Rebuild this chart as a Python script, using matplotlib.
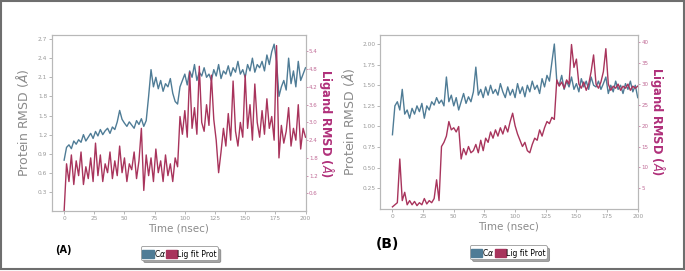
import numpy as np
import matplotlib
matplotlib.use("Agg")
import matplotlib.pyplot as plt
from matplotlib.patches import Patch, Rectangle

# time axis (nsec), one frame every 2 ns
time = np.arange(0, 201, 2)

# panel A
prot_a = [0.80, 1.00, 1.04, 0.98, 1.10, 1.05, 1.12, 1.08, 1.20, 1.10,
          1.16, 1.22, 1.14, 1.25, 1.18, 1.28, 1.20, 1.26, 1.30, 1.22,
          1.32, 1.28, 1.40, 1.58, 1.44, 1.38, 1.33, 1.40, 1.35, 1.30,
          1.42, 1.36, 1.45, 1.33, 1.42, 1.80, 2.22, 1.95, 2.10, 1.92,
          2.05, 1.88, 2.00, 1.95, 2.08, 1.85, 1.72, 1.68, 1.95, 2.05,
          2.15, 1.98, 2.20, 2.10, 2.30, 2.05, 2.18, 2.12, 2.25, 2.10,
          2.15, 2.05, 2.22, 2.12, 2.30, 2.08, 2.20, 2.15, 2.28, 2.12,
          2.25, 2.18, 2.35, 2.15, 2.22, 2.10, 2.30, 2.20, 2.40, 2.18,
          2.30, 2.25, 2.35, 2.20, 2.45, 2.30, 2.50, 2.62, 2.35, 1.80,
          1.95, 2.05, 1.90, 2.40, 2.00, 2.20, 1.95, 2.35, 2.05, 2.15,
          2.25]
lig_a = [0.0, 1.6, 1.0, 1.9, 0.9, 1.7, 1.2, 2.0, 0.9, 1.5,
         1.1, 1.8, 1.0, 2.3, 1.2, 1.9, 1.0, 1.6, 1.3, 2.0,
         1.1, 1.7, 1.2, 2.2, 1.3, 1.8, 1.0, 1.6, 1.4, 2.0,
         1.1, 1.7, 2.8, 0.7, 1.9, 1.2, 1.8, 1.0, 2.1, 1.3,
         1.7, 1.0, 1.9, 1.2, 1.6, 1.0, 1.8, 1.5, 3.2, 2.6,
         3.4, 2.5, 4.7, 2.8, 3.5, 2.6, 4.9, 3.0, 2.7, 3.6,
         2.9, 4.6, 3.1, 2.4, 1.3, 2.0, 2.8, 2.2, 3.3, 2.4,
         4.4, 2.7, 2.2, 3.0, 2.5, 4.6, 2.8, 3.6, 2.4, 4.3,
         3.0, 2.5, 3.4, 2.6, 3.8, 2.8, 3.2, 2.4, 5.6, 1.8,
         2.9, 2.3, 2.7, 3.5, 2.2, 2.8, 2.4, 3.6, 2.1, 2.8,
         2.5]

# panel B
prot_b = [0.90, 1.25, 1.30, 1.20, 1.45, 1.15, 1.20, 1.10, 1.22, 1.15,
          1.25, 1.18, 1.28, 1.10, 1.25, 1.20, 1.30, 1.26, 1.35, 1.28,
          1.32, 1.25, 1.60, 1.30, 1.38, 1.25, 1.35, 1.20, 1.30, 1.40,
          1.28, 1.36, 1.30, 1.42, 1.72, 1.38, 1.45, 1.35, 1.48, 1.38,
          1.50, 1.40, 1.45, 1.38, 1.52, 1.42, 1.35, 1.48, 1.38, 1.45,
          1.35, 1.52, 1.40, 1.48, 1.36, 1.50, 1.42, 1.55, 1.45, 1.50,
          1.40, 1.58, 1.48, 1.62, 1.55, 1.78, 2.00, 1.55, 1.50, 1.62,
          1.45, 1.55, 1.48, 1.60, 1.45, 1.52, 1.42, 1.58, 1.48, 1.55,
          1.45, 1.60, 1.50, 1.48, 1.55, 1.45, 1.52, 1.60, 1.40, 1.50,
          1.42, 1.55, 1.45, 1.50, 1.40, 1.52, 1.45, 1.55, 1.42, 1.50,
          1.35]
lig_b = [0.5, 1.0, 1.5, 12.0, 2.0, 4.0, 1.0, 2.0, 1.0, 1.8,
         0.8, 1.5, 1.0, 2.5, 1.2, 2.0, 1.5, 2.5, 7.0, 2.0,
         15.0, 16.0, 17.5, 21.0, 19.0, 19.5, 18.5, 19.8, 12.0, 14.5,
         13.0, 15.0, 13.5, 14.0, 15.5, 13.5, 16.5, 14.0, 17.0, 16.0,
         18.5, 17.0, 19.0, 17.5, 19.5, 18.0, 20.0, 18.5, 21.0, 23.0,
         20.0, 18.0, 16.5, 15.0, 16.0, 14.0, 13.5, 15.5, 17.0, 16.5,
         19.0, 17.5, 19.5, 21.0, 20.5, 22.0, 21.5, 31.0, 29.5, 30.5,
         29.0, 31.0, 30.0, 39.5, 34.0, 36.0, 30.0, 29.0, 30.5, 28.5,
         30.0, 33.0, 37.0, 30.0, 29.0, 30.5, 33.0, 38.5, 30.0, 28.5,
         29.5, 29.0, 30.0, 28.5, 29.5, 29.0, 30.0, 28.5, 29.5, 29.0,
         29.5]

x_ticks = [0, 25, 50, 75, 100, 125, 150, 175, 200]
prot_ticks_a = [0.3, 0.6, 0.9, 1.2, 1.5, 1.8, 2.1, 2.4, 2.7]
lig_ticks_a = [0.6, 1.2, 1.8, 2.4, 3.0, 3.6, 4.2, 4.8, 5.4]
prot_ticks_b = [0.25, 0.50, 0.75, 1.00, 1.25, 1.50, 1.75, 2.00]
lig_ticks_b = [5, 10, 15, 20, 25, 30, 35, 40]

blue = "#4f7c96"
red = "#a8345c"
lig_col = "#b0307a"
grey = "#8a8a8a"


def panel(rect, prot, lig, pticks, lticks, pfmt, lfmt, pylim, lylim, lx, rx):
    ax = fig.add_axes(rect)
    ax.plot(time, prot, color=blue, lw=1.0)
    ax2 = ax.twinx()
    ax2.plot(time, lig, color=red, lw=1.0)
    ax.set_xlim(-10, 200)
    ax.set_ylim(*pylim)
    ax2.set_ylim(*lylim)
    ax.set_xticks(x_ticks)
    ax.set_yticks(pticks)
    ax.set_yticklabels([pfmt % v for v in pticks])
    ax2.set_yticks(lticks)
    ax2.set_yticklabels([lfmt % v for v in lticks])
    for a in (ax, ax2):
        for s in a.spines.values():
            s.set_color("#b8b8b8")
            s.set_linewidth(0.8)
    ax.tick_params(labelsize=4.2, colors="#999999", length=2, width=0.5, pad=1.5)
    ax2.tick_params(labelsize=4.0, colors="#c06a96", length=1.5, width=0.5, pad=1.0)
    ax.set_xlabel("Time (nsec)", fontsize=7.5, color=grey, labelpad=2)
    ax.set_ylabel(r"Protein RMSD ($\AA$)", fontsize=9.0, color=grey)
    ax.yaxis.set_label_coords(lx, 0.5)
    ax2.set_ylabel(r"Ligand RMSD ($\AA$)", fontsize=8.3, color=lig_col,
                   rotation=270, va="center", fontweight="semibold")
    ax2.yaxis.set_label_coords(rx, 0.5)
    return ax


fig = plt.figure(figsize=(6.85, 2.71), dpi=100)

ax_a = panel([0.076, 0.221, 0.370, 0.649], prot_a, lig_a,
             prot_ticks_a, lig_ticks_a, "%.1f", "%.1f", (0, 2.76), (0, 5.95),
             -0.082, 1.084)
ax_b = panel([0.555, 0.229, 0.376, 0.642], prot_b, lig_b,
             prot_ticks_b, lig_ticks_b, "%.2f", "%d", (0, 2.11), (0, 41.8),
             -0.09, 1.075)

handles = [Patch(color=blue, label=r"C$\alpha$"), Patch(color=red, label="Lig fit Prot")]
for cx, cy in ((0.262, 0.066), (0.742, 0.070)):
    leg = fig.legend(handles=handles, loc="center", bbox_to_anchor=(cx, cy),
                     ncol=2, fontsize=5.5, frameon=True, handlelength=1.5,
                     handleheight=1.1, handletextpad=0.0, columnspacing=0.0,
                     borderpad=0.15, borderaxespad=0, fancybox=True, shadow=True)
    leg.get_frame().set_edgecolor("#999999")
    leg.get_frame().set_linewidth(0.6)

fig.text(0.080, 0.065, "(A)", fontsize=7, fontweight="bold")
fig.text(0.548, 0.085, "(B)", fontsize=10, fontweight="bold")

fig.patches.append(Rectangle((0.001, 0.006), 0.998, 0.99, transform=fig.transFigure,
                             fill=False, edgecolor="#6e6e6e", lw=1.5))

fig.savefig("out.png", dpi=100)
